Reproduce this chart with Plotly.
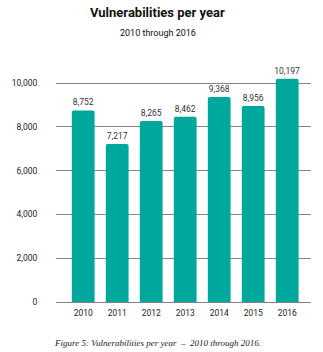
import plotly.graph_objects as go

years = ["2010", "2011", "2012", "2013", "2014", "2015", "2016"]
vulns = [8752, 7217, 8265, 8462, 9368, 8956, 10197]
labels = ["8,752", "7,217", "8,265", "8,462", "9,368", "8,956", "10,197"]
yticks = [0, 2000, 4000, 6000, 8000, 10000]
yticktext = ["0", "2,000", "4,000", "6,000", "8,000", "10,000"]

fig = go.Figure(go.Bar(
    x=years, y=vulns, text=labels, textposition="outside",
    textfont=dict(size=8.5, color="#333333", family="Roboto"),
    constraintext="none",
    marker=dict(color="#00a79c", cornerradius=2, line=dict(width=0)),
    cliponaxis=False,
))

fig.update_layout(
    width=323, height=352,
    margin=dict(l=53, r=12, t=70, b=50),
    paper_bgcolor="white", plot_bgcolor="white",
    bargap=0.33, showlegend=False,
    font=dict(family="Roboto", size=8.5, color="#222222"),
    xaxis=dict(type="category", range=[-0.8, 6.7], showgrid=False, showline=False,
               ticks="outside", ticklen=3, tickcolor="rgba(0,0,0,0)",
               tickfont=dict(size=8.5, color="#222222")),
    yaxis=dict(range=[0, 10600], tickvals=yticks, ticktext=yticktext,
               showgrid=True, gridcolor="#858585", gridwidth=1,
               zeroline=True, zerolinecolor="#858585", zerolinewidth=1,
               showline=False, ticks="outside", ticklen=16, tickcolor="rgba(0,0,0,0)",
               tickfont=dict(size=8.5, color="#222222")),
    annotations=[
        dict(text="<b>Vulnerabilities per year</b>", xref="paper", yref="paper",
             x=0.399, y=1.2457, showarrow=False, xanchor="center", yanchor="middle",
             font=dict(size=13, family="Roboto", color="#111111")),
        dict(text="2010 through 2016", xref="paper", yref="paper",
             x=0.399, y=1.159, showarrow=False, xanchor="center", yanchor="middle",
             font=dict(size=9, family="Roboto", color="#111111")),
        dict(text="<i>Figure 5: Vulnerabilities per year  –  2010 through 2016.</i>",
             xref="paper", yref="paper", x=0.399, y=-0.177, showarrow=False,
             xanchor="center", yanchor="middle",
             font=dict(size=9, family="Liberation Serif", color="#222222")),
    ],
)

fig.write_html("out.html")
